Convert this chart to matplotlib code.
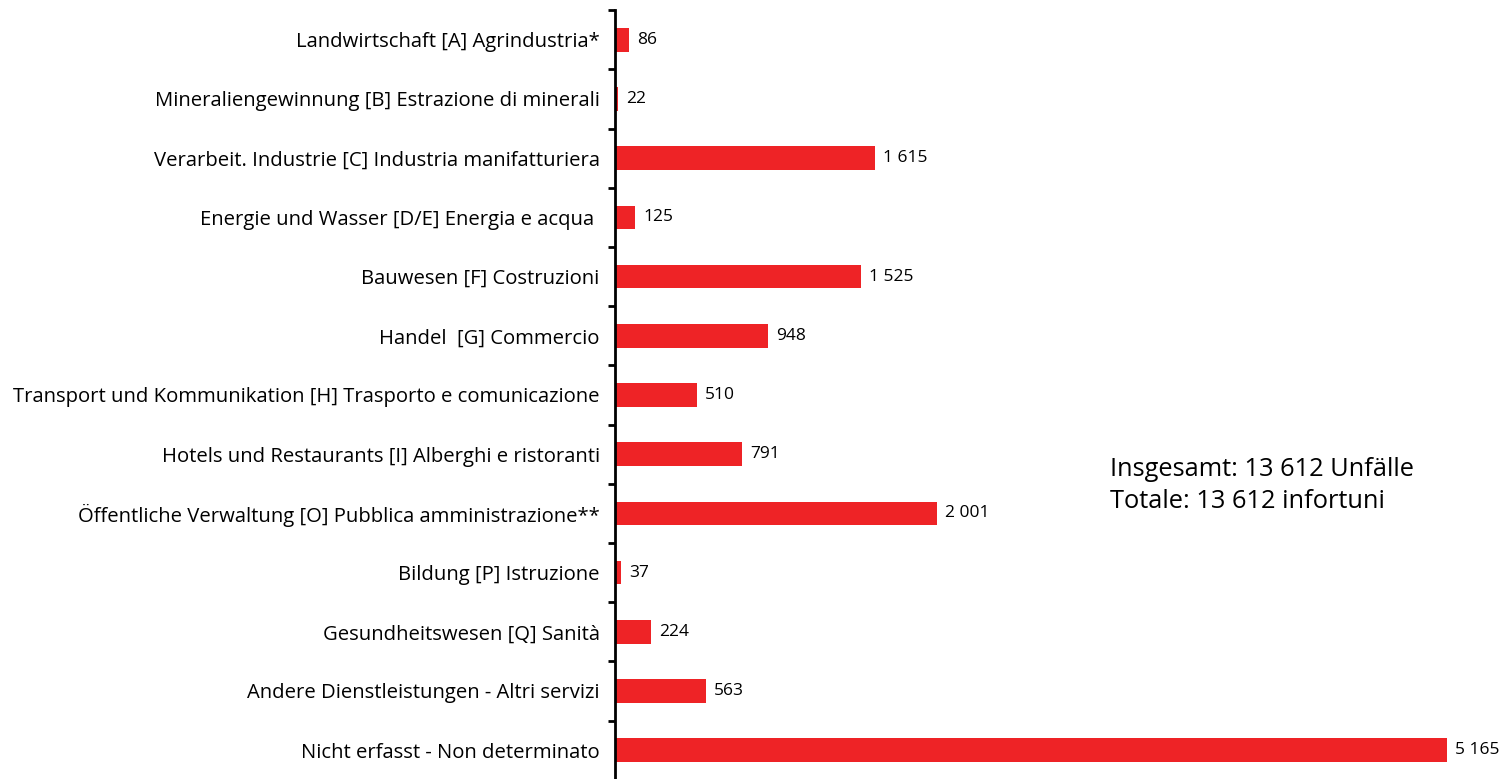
import numpy as np
import matplotlib.pyplot as plt

plt.rcParams['font.family'] = ['Open Sans', 'DejaVu Sans']

categories = [
    "Landwirtschaft [A] Agrindustria*",
    "Mineraliengewinnung [B] Estrazione di minerali",
    "Verarbeit. Industrie [C] Industria manifatturiera",
    "Energie und Wasser [D/E] Energia e acqua ",
    "Bauwesen [F] Costruzioni",
    "Handel  [G] Commercio",
    "Transport und Kommunikation [H] Trasporto e comunicazione",
    "Hotels und Restaurants [I] Alberghi e ristoranti",
    "Öffentliche Verwaltung [O] Pubblica amministrazione**",
    "Bildung [P] Istruzione",
    "Gesundheitswesen [Q] Sanità",
    "Andere Dienstleistungen - Altri servizi",
    "Nicht erfasst - Non determinato",
]
values = [86, 22, 1615, 125, 1525, 948, 510, 791, 2001, 37, 224, 563, 5165]
total_lines = ["Insgesamt: 13 612 Unfälle", "Totale: 13 612 infortuni"]


def fmt(v):
    return f"{v:,}".replace(",", " ")


fig = plt.figure(figsize=(15.05, 7.79), dpi=100)
ax = fig.add_axes([0.4086, -0.001, 0.5914, 0.988])

y = np.arange(len(categories))
ax.barh(y, values, height=0.4, color='#ee2326')

for yi, v in zip(y, values):
    ax.text(v + 50, yi, fmt(v), va='center', ha='left', fontsize=12.5)

ax.set_xlim(0, 5525)
ax.set_ylim(len(categories) - 0.5, -0.5)

ax.set_yticks(y)
ax.set_yticklabels(categories, fontsize=14.6)
ax.tick_params(axis='y', which='major', length=0, pad=11)
ax.set_yticks(np.arange(-0.5, len(categories)), minor=True)
ax.tick_params(axis='y', which='minor', length=5, width=2, direction='out')

ax.set_xticks([])
for s in ['top', 'right', 'bottom']:
    ax.spines[s].set_visible(False)
ax.spines['left'].set_linewidth(2)

fig.text(0.7375, 0.377, "\n".join(total_lines), fontsize=18.3, va='center', ha='left',
         linespacing=1.38)

fig.savefig('out.png', dpi=100)
